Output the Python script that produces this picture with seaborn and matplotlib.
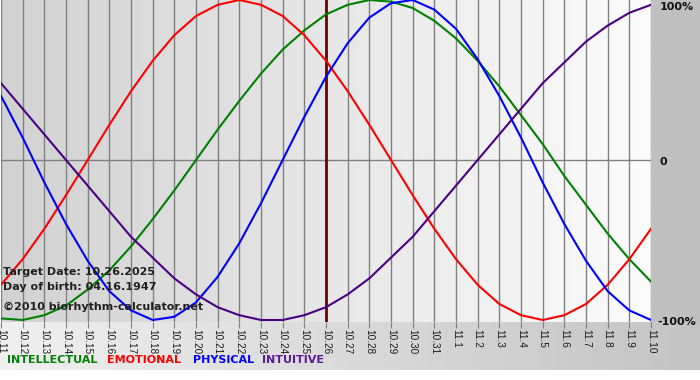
import numpy as np
import pandas as pd
import matplotlib.pyplot as plt
import seaborn as sns
from matplotlib.colors import LinearSegmentedColormap
from matplotlib.patches import Rectangle

# day labels along the bottom (10.11 -> 11.10)
days = ['10.11', '10.12', '10.13', '10.14', '10.15', '10.16', '10.17', '10.18', '10.19', '10.20',
        '10.21', '10.22', '10.23', '10.24', '10.25', '10.26', '10.27', '10.28', '10.29', '10.30',
        '10.31', '11.1', '11.2', '11.3', '11.4', '11.5', '11.6', '11.7', '11.8', '11.9', '11.10']

# cycle values (-1 .. 1)
intellectual = [-0.99, -1.00, -0.97, -0.91, -0.81, -0.69, -0.54, -0.37, -0.19, 0.00,
                0.19, 0.37, 0.54, 0.69, 0.81, 0.91, 0.97, 1.00, 0.99, 0.95,
                0.87, 0.76, 0.62, 0.46, 0.28, 0.10, -0.10, -0.28, -0.46, -0.62, -0.76]
emotional = [-0.78, -0.62, -0.43, -0.22, 0.00, 0.22, 0.43, 0.62, 0.78, 0.90,
             0.97, 1.00, 0.97, 0.90, 0.78, 0.62, 0.43, 0.22, 0.00, -0.22,
             -0.43, -0.62, -0.78, -0.90, -0.97, -1.00, -0.97, -0.90, -0.78, -0.62, -0.43]
physical = [0.40, 0.14, -0.14, -0.40, -0.63, -0.82, -0.94, -1.00, -0.98, -0.89,
            -0.73, -0.52, -0.27, 0.00, 0.27, 0.52, 0.73, 0.89, 0.98, 1.00,
            0.94, 0.82, 0.63, 0.40, 0.14, -0.14, -0.40, -0.63, -0.82, -0.94, -1.00]
intuitive = [0.48, 0.32, 0.16, 0.00, -0.16, -0.32, -0.48, -0.61, -0.74, -0.84,
             -0.92, -0.97, -1.00, -1.00, -0.97, -0.92, -0.84, -0.74, -0.61, -0.48,
             -0.32, -0.16, 0.00, 0.16, 0.32, 0.48, 0.61, 0.74, 0.84, 0.92, 0.97]

target_day = '10.26'
cycles = ['INTELLECTUAL', 'EMOTIONAL', 'PHYSICAL', 'INTUITIVE']
colors = {'INTELLECTUAL': '#008000', 'EMOTIONAL': '#FF0000',
          'PHYSICAL': '#0000FF', 'INTUITIVE': '#4B0082'}

# long format table for seaborn
df = pd.DataFrame({
    'day': list(range(len(days))) * 4,
    'value': intellectual + emotional + physical + intuitive,
    'cycle': sum([[c] * len(days) for c in cycles], []),
})

W, H = 700, 380
fig = plt.figure(figsize=(7, 3.8), dpi=100, facecolor='white')

# background panels in pixel coordinates
bg = fig.add_axes([0, 0, 1, 1], zorder=-1)
bg.set_xlim(0, W)
bg.set_ylim(H, 0)
bg.axis('off')
bg.add_patch(Rectangle((651, 0), 49, 322, color='#C0C0C0', lw=0))
band = LinearSegmentedColormap.from_list('band', ['#F0F0F0', '#C4C4C4'])
bg.imshow(np.linspace(0, 1, 256).reshape(1, -1), cmap=band, aspect='auto',
          extent=(0, W, 370, 322))

# main plot area
ax = fig.add_axes([1 / W, 1 - 322 / H, 650 / W, 322 / H])
ax.set_xlim(0, len(days) - 1)
ax.set_ylim(-1.0125, 1.0)
grad = LinearSegmentedColormap.from_list('grad', ['#D2D2D2', '#FCFCFC'])
ax.imshow(np.linspace(0, 1, 256).reshape(1, -1), cmap=grad, aspect='auto',
          extent=(0, len(days) - 1, -1.0125, 1.0), zorder=0)

ax.set_xticks(range(len(days)))
ax.set_xticklabels(days, rotation=270, fontsize=7.2, family='Liberation Sans', color='#1A1A1A')
ax.tick_params(axis='x', length=4, color='#808080', pad=1)
ax.set_yticks([])
ax.grid(axis='x', color='#808080', lw=1, zorder=1)
ax.axhline(0, color='#808080', lw=1, zorder=1)
for s in ax.spines.values():
    s.set_visible(False)

ax.axvline(days.index(target_day), color='#700000', lw=2, zorder=2)

sns.lineplot(data=df, x='day', y='value', hue='cycle', palette=colors,
             legend=False, lw=1.5, ax=ax, zorder=3)
ax.set_xlabel('')
ax.set_ylabel('')

# texts
bold = dict(fontsize=8, fontweight='bold', family='DejaVu Sans', va='center')
fig.text(3 / W, 1 - 272 / H, 'Target Date: 10.26.2025', color='#202020', **bold)
fig.text(3 / W, 1 - 287 / H, 'Day of birth: 04.16.1947', color='#202020', **bold)
fig.text(3 / W, 1 - 307 / H, '\u00a92010 biorhythm-calculator.net', color='#202020', **bold)

fig.text(660 / W, 1 - 7 / H, '100%', color='#101010', **bold)
fig.text(660 / W, 1 - 162 / H, '0', color='#101010', **bold)
fig.text(657 / W, 1 - 322 / H, '-100%', color='#101010', **bold)

legend_x = [7, 107, 193, 262]
legend_colors = ['#008000', '#FF0000', '#0000FF', '#5B1A9A']
for x, name, c in zip(legend_x, cycles, legend_colors):
    fig.text(x / W, 1 - 360 / H, name, color=c, **bold)

fig.savefig('out.png', dpi=100)
